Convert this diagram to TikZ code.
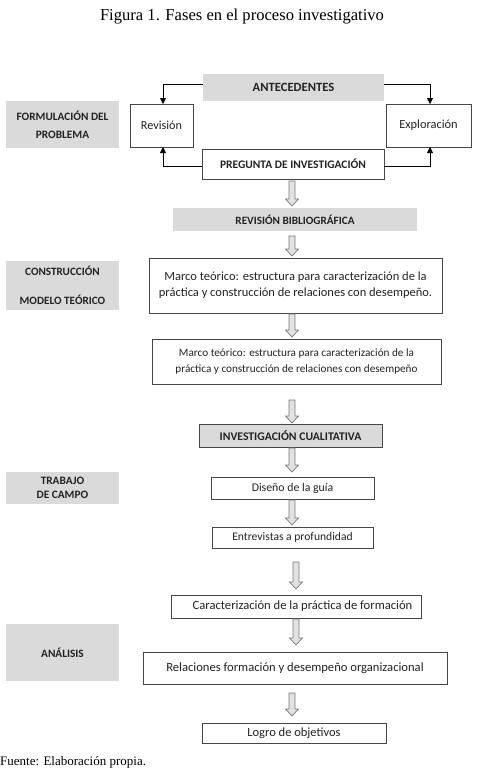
\documentclass[tikz,border=0pt]{standalone}
\usepackage{fontspec}
\setmainfont{Liberation Serif}
\newfontfamily\boxfont{Carlito}
\usetikzlibrary{arrows.meta}
\definecolor{boxgray}{RGB}{218,218,218}
\definecolor{edgegray}{RGB}{70,70,70}
\definecolor{arrfill}{RGB}{226,226,226}
\definecolor{arredge}{RGB}{120,120,120}
\definecolor{txt}{RGB}{35,35,35}
\tikzset{
  base/.style={inner sep=0pt, outer sep=0pt, align=center, text=txt, font=\boxfont\fontsize{12}{15}\selectfont},
  wbox/.style={base, draw=edgegray, line width=0.8pt, fill=white},
  gbox/.style={base, fill=boxgray, font=\boxfont\bfseries\fontsize{11.5}{14}\selectfont},
  gboxb/.style={gbox, draw=edgegray, line width=0.8pt},
  phase/.style={base, fill=boxgray, font=\boxfont\bfseries\fontsize{11.3}{18}\selectfont, minimum width=113pt},
  conn/.style={line width=0.8pt, -{Triangle[length=6pt,width=6pt]}},
  harr/.style={fill=arrfill, draw=arredge, line width=0.7pt, line join=miter}
}
\newcommand\hollowdown[3]{%
  \filldraw[harr] ({#1pt-3pt},{-#2pt}) -- ({#1pt+3pt},{-#2pt}) -- ({#1pt+3pt},{-#3pt+7pt})
   -- ({#1pt+6.5pt},{-#3pt+7pt}) -- ({#1pt},{-#3pt}) -- ({#1pt-6.5pt},{-#3pt+7pt})
   -- ({#1pt-3pt},{-#3pt+7pt}) -- cycle;}
\begin{document}
\begin{tikzpicture}[x=1pt,y=1pt]
\useasboundingbox (0,0) rectangle (479,-777);
\node[font=\fontsize{16.6}{18}\selectfont, text=black] (title) at (242,-17) {Figura 1. Fases en el proceso investigativo};

% row 1
\node[gbox, font=\boxfont\bfseries\fontsize{12.6}{14}\selectfont, minimum width=181pt, minimum height=27pt] (ant) at (293.5,-87.5) {ANTECEDENTES};
\node[wbox, font=\boxfont\fontsize{12.2}{14}\selectfont, minimum width=63pt, minimum height=43pt] (rev) at (161.5,-125.5) {Revisión};
\node[wbox, font=\boxfont\fontsize{12.4}{14}\selectfont, minimum width=85pt, minimum height=43pt] (exp) at (428.5,-125.5) {Exploración};
\node[phase, minimum height=47pt] (form) at (62.5,-124.5) {FORMULACIÓN DEL\\PROBLEMA};
\node[wbox, font=\boxfont\bfseries\fontsize{11.5}{14}\selectfont, minimum width=182pt, minimum height=30pt] (preg) at (293,-164) {PREGUNTA DE INVESTIGACIÓN};

\draw[conn] ([yshift=3pt]ant.west) -| ([xshift=1.5pt]rev.north);
\draw[conn] ([yshift=3pt]ant.east) -| ([xshift=1.5pt]exp.north);
\draw[conn] ([yshift=-2pt]preg.west) -| ([xshift=1.5pt]rev.south);
\draw[conn] ([yshift=-2pt]preg.east) -| ([xshift=1.5pt]exp.south);

\node[gbox, font=\boxfont\bfseries\fontsize{11.2}{14}\selectfont, minimum width=244pt, minimum height=23pt] (bib) at (295,-219.5) {REVISIÓN BIBLIOGRÁFICA};
\node[wbox, minimum width=293pt, minimum height=55pt, font=\boxfont\fontsize{12.5}{16}\selectfont] (m1) at (295.5,-285.5) {Marco teórico: estructura para caracterización de la\\práctica y construcción de relaciones con desempeño.};
\node[phase, minimum height=49pt, font=\boxfont\bfseries\fontsize{11.2}{29}\selectfont] (cons) at (62.5,-285.5) {CONSTRUCCIÓN\\MODELO TEÓRICO};
\node[wbox, minimum width=289pt, minimum height=45pt, font=\boxfont\fontsize{11.2}{16}\selectfont] (m2) at (296.5,-361.5) {Marco teórico: estructura para caracterización de la\\práctica y construcción de relaciones con desempeño};

\node[gboxb, font=\boxfont\bfseries\fontsize{11.7}{14}\selectfont, minimum width=183pt, minimum height=23pt] (inv) at (290.5,-435.5) {INVESTIGACIÓN CUALITATIVA};
\node[wbox, minimum width=163pt, minimum height=22pt, font=\boxfont\fontsize{11.8}{14}\selectfont] (dis) at (292.5,-488) {Diseño de la guía};
\node[phase, minimum height=32pt, font=\boxfont\bfseries\fontsize{11.3}{13.5}\selectfont] (trab) at (62.5,-488) {TRABAJO\\DE CAMPO};
\node[wbox, minimum width=161pt, minimum height=21pt, font=\boxfont\fontsize{11.6}{14}\selectfont] (ent) at (292.5,-537.5) {Entrevistas a profundidad};

\node[wbox, minimum width=250pt, minimum height=23pt, font=\boxfont\fontsize{12.6}{14}\selectfont] (car) at (296,-606.5) {\hspace*{13pt}Caracterización de la práctica de formación};
\node[phase, minimum height=57pt] (ana) at (62.5,-652.5) {ANÁLISIS};
\node[wbox, minimum width=304pt, minimum height=32pt, font=\boxfont\fontsize{12.6}{14}\selectfont] (rel) at (295,-668) {Relaciones formación y desempeño organizacional};
\node[wbox, minimum width=184pt, minimum height=20pt, font=\boxfont\fontsize{12.5}{14}\selectfont] (logro) at (294,-733) {Logro de objetivos};

\node[anchor=west, font=\fontsize{13}{15}\selectfont, text=black, inner sep=0pt] (fuente) at (0,-762) {Fuente: Elaboración propia.};

% hollow arrows
\hollowdown{292}{181}{206}
\hollowdown{292}{236}{256}
\hollowdown{292}{314}{337}
\hollowdown{292}{400}{423}
\hollowdown{292}{448}{472}
\hollowdown{292}{500}{525}
\hollowdown{296}{562}{589}
\hollowdown{296}{619}{645}
\hollowdown{292}{693}{716}
\end{tikzpicture}
\end{document}
